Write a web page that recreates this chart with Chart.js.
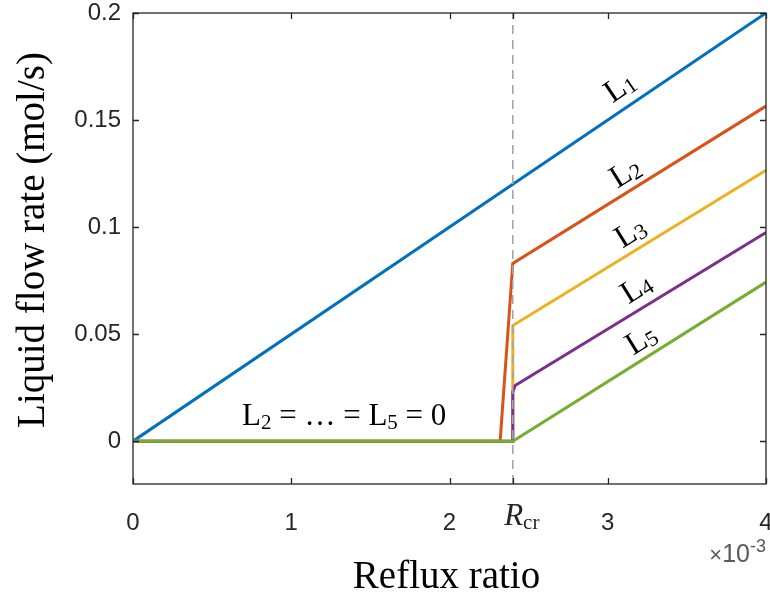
<!DOCTYPE html>
<html>
<head>
<meta charset="utf-8">
<script src="https://cdn.jsdelivr.net/npm/chart.js@4.4.0/dist/chart.umd.min.js"></script>
<style>
  html, body { margin: 0; padding: 0; background: #fff; }
  #wrap { width: 770px; height: 594px; }
</style>
</head>
<body>
<div id="wrap"><canvas id="chart" width="770" height="594"></canvas></div>
<script>
// reflux ratio in units of 1e-3
const rcr = 2.4;
const xTicks = [0, 1, 2, rcr, 3, 4];
const yTicks = [0, 0.05, 0.1, 0.15, 0.2];

const l1x = [0, 4];
const l1y = [0, 0.2];
const l2x = [0, 2.32, 2.4, 4];
const l2y = [0, 0, 0.083, 0.1565];
const l3x = [0, 2.395, 2.4, 4];
const l3y = [0, 0, 0.054, 0.1265];
const l4x = [0, 2.4, 2.4, 2.415, 4];
const l4y = [0, 0, 0.023, 0.026, 0.0975];
const l5x = [0, 2.4, 4];
const l5y = [0, 0, 0.0743];
const rcrLineX = [rcr, rcr];
const rcrLineY = [-0.02, 0.2];

// curve label anchors (x, y, slope)
const labelNames = ["1", "2", "3", "4", "5"];
const labelX = [3.08, 3.115, 3.147, 3.185, 3.215];
const labelY = [0.165, 0.125, 0.097, 0.071, 0.047];
const labelSlope = [0.05, 0.046, 0.046, 0.046, 0.046];

const pts = (xs, ys) => xs.map((x, i) => ({ x: x, y: ys[i] }));
const serif = '"Liberation Serif", "DejaVu Serif", serif';
const sans = '"Liberation Sans", Arial, sans-serif';
const ink = "#262626";

function line(label, xs, ys, color, order) {
  return {
    label: label,
    data: pts(xs, ys),
    borderColor: color,
    borderWidth: 3,
    pointRadius: 0,
    fill: false,
    tension: 0,
    order: order,
  };
}

// text with subscript / superscript pieces: [text, size, dy, italic, font]
function drawPieces(ctx, pieces, x, y, align) {
  let total = 0;
  pieces.forEach((p) => {
    ctx.font = (p[3] ? "italic " : "") + p[1] + "px " + (p[4] || serif);
    total += ctx.measureText(p[0]).width;
  });
  let cx = x;
  if (align === "center") cx = x - total / 2;
  if (align === "right") cx = x - total;
  ctx.textAlign = "left";
  pieces.forEach((p) => {
    ctx.font = (p[3] ? "italic " : "") + p[1] + "px " + (p[4] || serif);
    ctx.fillText(p[0], cx, y + p[2]);
    cx += ctx.measureText(p[0]).width;
  });
}

const decor = {
  id: "decor",
  afterDraw(chart) {
    const ctx = chart.ctx;
    const a = chart.chartArea;
    const xs = chart.scales.x;
    const ys = chart.scales.y;
    ctx.save();

    // frame
    ctx.strokeStyle = ink;
    ctx.lineWidth = 1.3;
    ctx.strokeRect(a.left, a.top, a.right - a.left, a.bottom - a.top);

    // inward ticks
    ctx.beginPath();
    xTicks.forEach((v) => {
      const px = Math.round(xs.getPixelForValue(v)) + 0.5;
      ctx.moveTo(px, a.bottom); ctx.lineTo(px, a.bottom - 6);
      ctx.moveTo(px, a.top); ctx.lineTo(px, a.top + 6);
    });
    yTicks.forEach((v) => {
      const py = Math.round(ys.getPixelForValue(v)) + 0.5;
      ctx.moveTo(a.left, py); ctx.lineTo(a.left + 6, py);
      ctx.moveTo(a.right, py); ctx.lineTo(a.right - 6, py);
    });
    ctx.stroke();

    // tick labels
    ctx.fillStyle = ink;
    ctx.font = "24px " + sans;
    ctx.textBaseline = "middle";
    ctx.textAlign = "right";
    yTicks.forEach((v) => {
      ctx.fillText(String(v), a.left - 12, ys.getPixelForValue(v));
    });
    ctx.textAlign = "center";
    ctx.textBaseline = "alphabetic";
    xTicks.forEach((v) => {
      if (v === rcr) return;
      ctx.fillText(String(v), xs.getPixelForValue(v), a.bottom + 46);
    });
    drawPieces(ctx, [["R", 31, 0, true], ["cr", 21, 4, false]],
      xs.getPixelForValue(rcr) + 9, a.bottom + 41, "center");

    // exponent
    ctx.fillStyle = "#595959";
    drawPieces(ctx, [["\u00d7", 22, 0, false, sans], ["10", 25, 0, false, sans], ["-3", 18, -10, false, sans]],
      a.right, a.bottom + 78, "right");

    // axis titles
    ctx.fillStyle = "#000";
    ctx.font = "39px " + serif;
    ctx.textAlign = "center";
    ctx.fillText("Reflux ratio", (a.left + a.right) / 2 - 3, 588);
    ctx.save();
    ctx.translate(44, 240);
    ctx.rotate(-Math.PI / 2);
    ctx.fillText("Liquid flow rate (mol/s)", 0, 0);
    ctx.restore();

    // curve labels
    const dx = xs.getPixelForValue(1) - xs.getPixelForValue(0);
    ctx.textBaseline = "middle";
    labelNames.forEach((n, i) => {
      const px = xs.getPixelForValue(labelX[i]);
      const py = ys.getPixelForValue(labelY[i]);
      const dy = ys.getPixelForValue(0) - ys.getPixelForValue(labelSlope[i]);
      ctx.save();
      ctx.translate(px, py);
      ctx.rotate(-Math.atan2(dy, dx));
      drawPieces(ctx, [["L", 32, 0, false], [n, 22, 5, false]], 0, 0, "center");
      ctx.restore();
    });
    ctx.textBaseline = "alphabetic";

    drawPieces(ctx, [["L", 31, 0, false], ["2", 21, 4, false], [" = \u2026 = L", 31, 0, false],
      ["5", 21, 4, false], [" = 0", 31, 0, false]], 242, 425, "left");

    ctx.restore();
  },
};

new Chart(document.getElementById("chart"), {
  type: "line",
  data: {
    datasets: [
      {
        label: "Rcr",
        data: pts(rcrLineX, rcrLineY),
        borderColor: "#a6a6a6",
        borderWidth: 1.6,
        borderDash: [9, 6],
        pointRadius: 0,
        order: 0,
      },
      line("L1", l1x, l1y, "#0072BD", 5),
      line("L2", l2x, l2y, "#D95319", 4),
      line("L3", l3x, l3y, "#EDB120", 3),
      line("L4", l4x, l4y, "#7E2F8E", 2),
      line("L5", l5x, l5y, "#77AC30", 1),
    ],
  },
  options: {
    responsive: false,
    animation: false,
    layout: { padding: { top: 13, right: 4, left: 0, bottom: 0 } },
    plugins: { legend: { display: false }, tooltip: { enabled: false } },
    scales: {
      x: {
        type: "linear",
        min: 0,
        max: 4,
        grid: { display: false },
        border: { display: false },
        ticks: { display: false },
        afterFit: (s) => { s.height = 110; },
      },
      y: {
        type: "linear",
        min: -0.02,
        max: 0.2,
        grid: { display: false },
        border: { display: false },
        ticks: { display: false },
        afterFit: (s) => { s.width = 133; },
      },
    },
  },
  plugins: [decor],
});
</script>
</body>
</html>
